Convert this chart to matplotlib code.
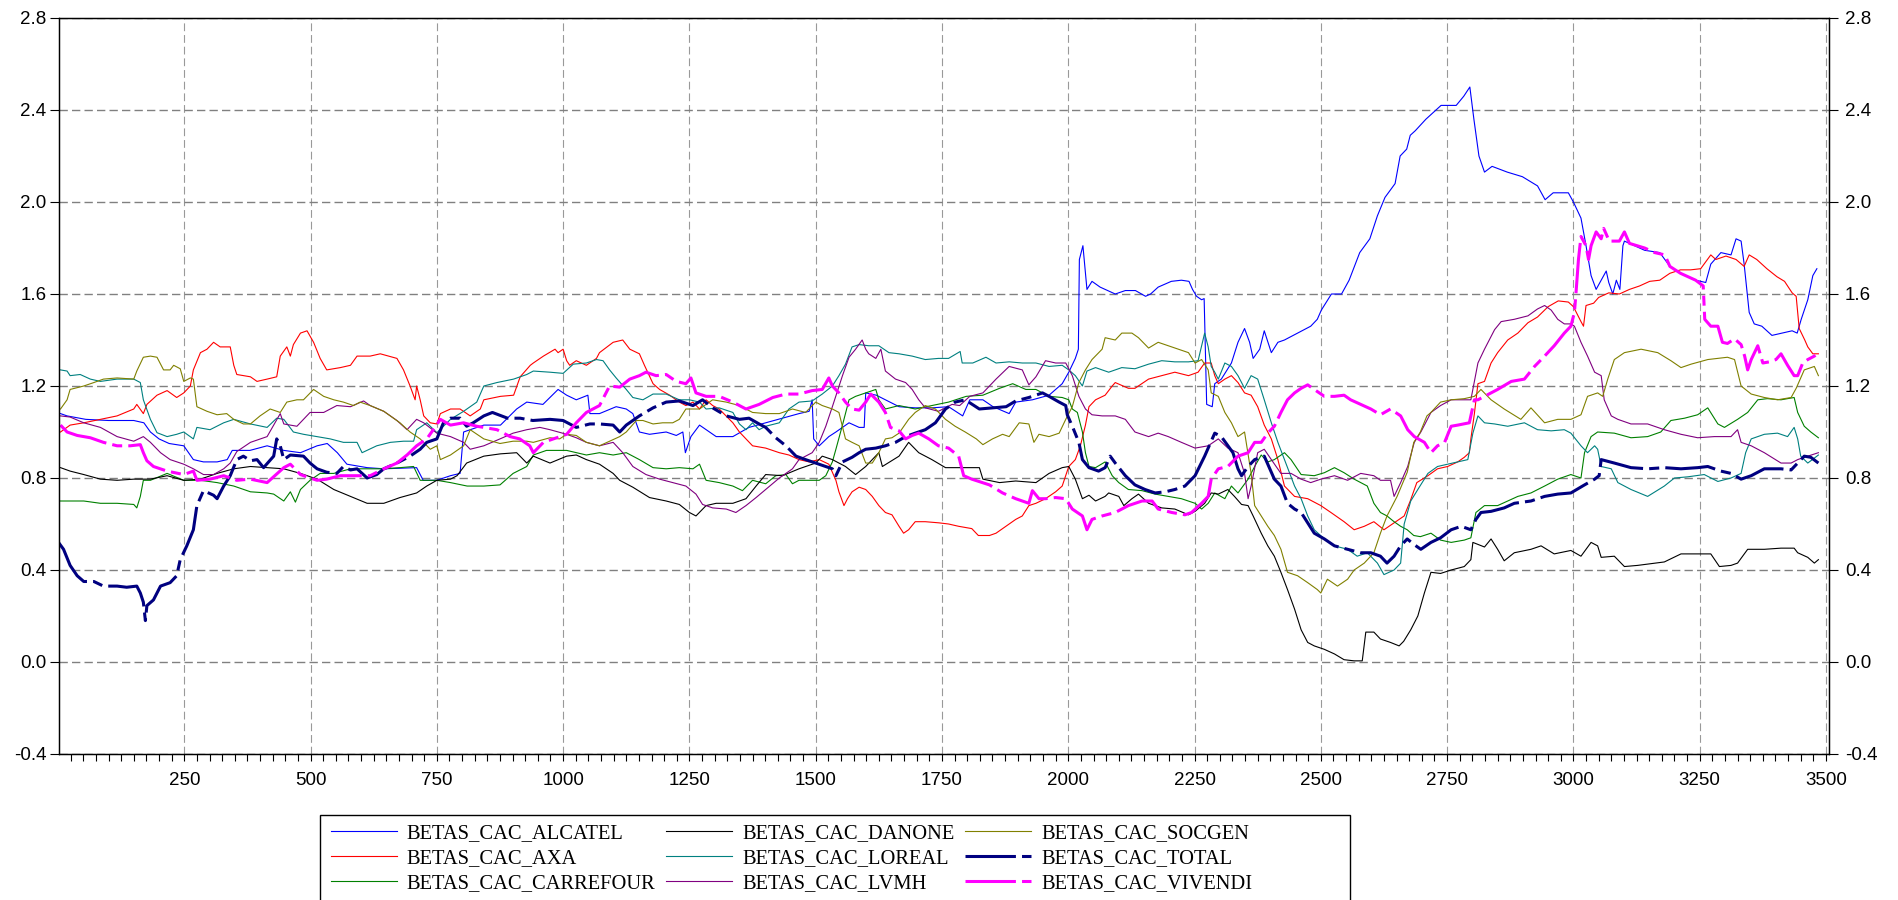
import matplotlib
matplotlib.use("Agg")
import matplotlib.pyplot as plt
from matplotlib.patches import Rectangle
from matplotlib.ticker import MultipleLocator, FormatStrFormatter

alcatel_x = [5, 18, 55, 100, 150, 170, 183, 200, 220, 249, 268, 288, 315, 335, 345, 380, 414, 447, 480, 513, 533, 553, 572, 612, 645, 710, 723, 750, 777, 796, 803, 816, 843, 876, 908, 928, 960, 990, 1007, 1026, 1049, 1053, 1072, 1105, 1125, 1138, 1151, 1171, 1204, 1224, 1237, 1242, 1253, 1270, 1290, 1303, 1336, 1368, 1401, 1434, 1467, 1487, 1493, 1496, 1507, 1526, 1540, 1566, 1586, 1596, 1599, 1620, 1638, 1665, 1697, 1730, 1763, 1791, 1805, 1831, 1851, 1883, 1896, 1929, 1962, 1988, 2001, 2014, 2020, 2022, 2029, 2037, 2047, 2063, 2093, 2113, 2133, 2153, 2163, 2178, 2204, 2224, 2239, 2246, 2254, 2264, 2269, 2274, 2285, 2290, 2303, 2323, 2336, 2349, 2359, 2366, 2379, 2388, 2402, 2415, 2428, 2454, 2480, 2493, 2501, 2521, 2541, 2556, 2577, 2597, 2612, 2627, 2647, 2657, 2670, 2677, 2687, 2708, 2738, 2768, 2783, 2795, 2803, 2813, 2824, 2839, 2869, 2899, 2929, 2944, 2960, 2990, 3000, 3015, 3025, 3035, 3045, 3055, 3065, 3070, 3078, 3085, 3092, 3098, 3101, 3121, 3141, 3171, 3191, 3212, 3242, 3262, 3272, 3292, 3312, 3322, 3332, 3338, 3348, 3358, 3373, 3393, 3413, 3433, 3443, 3451, 3464, 3474, 3482]
alcatel_y = [1.08, 1.07, 1.055, 1.05, 1.05, 1.04, 1.0, 0.97, 0.95, 0.94, 0.88, 0.87, 0.87, 0.88, 0.92, 0.92, 0.94, 0.92, 0.91, 0.94, 0.95, 0.91, 0.86, 0.845, 0.84, 0.845, 0.79, 0.79, 0.81, 0.82, 1.0, 1.01, 1.03, 1.03, 1.10, 1.13, 1.12, 1.185, 1.16, 1.14, 1.16, 1.08, 1.08, 1.11, 1.10, 1.08, 1.0, 0.99, 1.0, 0.985, 1.0, 0.91, 0.98, 1.03, 1.0, 0.98, 0.98, 1.02, 1.04, 1.06, 1.08, 1.09, 1.14, 0.97, 0.94, 0.98, 1.0, 1.04, 1.02, 1.02, 1.17, 1.16, 1.14, 1.11, 1.105, 1.105, 1.11, 1.07, 1.14, 1.14, 1.11, 1.08, 1.13, 1.14, 1.16, 1.21, 1.26, 1.32, 1.36, 1.75, 1.81, 1.62, 1.655, 1.63, 1.60, 1.615, 1.615, 1.59, 1.60, 1.63, 1.655, 1.66, 1.655, 1.62, 1.59, 1.575, 1.58, 1.12, 1.11, 1.21, 1.23, 1.30, 1.39, 1.45, 1.39, 1.32, 1.36, 1.44, 1.345, 1.39, 1.40, 1.43, 1.46, 1.49, 1.53, 1.60, 1.60, 1.66, 1.78, 1.84, 1.94, 2.02, 2.08, 2.20, 2.23, 2.29, 2.31, 2.36, 2.42, 2.42, 2.46, 2.50, 2.36, 2.20, 2.13, 2.155, 2.13, 2.11, 2.07, 2.01, 2.04, 2.04, 2.0, 1.93, 1.81, 1.68, 1.62, 1.66, 1.70, 1.65, 1.60, 1.66, 1.62, 1.81, 1.83, 1.81, 1.79, 1.78, 1.72, 1.69, 1.66, 1.65, 1.73, 1.78, 1.77, 1.84, 1.83, 1.73, 1.52, 1.47, 1.46, 1.42, 1.43, 1.44, 1.43, 1.49, 1.575, 1.68, 1.71]

axa_x = [5, 24, 51, 84, 117, 150, 156, 169, 176, 196, 216, 235, 249, 262, 268, 282, 295, 308, 321, 341, 348, 354, 381, 394, 414, 433, 440, 453, 460, 466, 480, 493, 506, 519, 532, 559, 579, 592, 618, 638, 671, 684, 697, 707, 710, 717, 724, 737, 750, 757, 777, 796, 816, 836, 843, 876, 902, 915, 935, 941, 961, 984, 990, 1000, 1007, 1013, 1026, 1046, 1066, 1072, 1099, 1118, 1132, 1151, 1161, 1178, 1191, 1211, 1230, 1243, 1257, 1270, 1283, 1296, 1309, 1336, 1349, 1362, 1375, 1401, 1428, 1447, 1467, 1487, 1507, 1526, 1540, 1546, 1556, 1563, 1572, 1586, 1599, 1612, 1625, 1638, 1651, 1665, 1674, 1684, 1697, 1717, 1744, 1763, 1783, 1809, 1822, 1844, 1857, 1870, 1896, 1909, 1922, 1936, 1955, 1975, 1988, 2001, 2014, 2024, 2034, 2041, 2054, 2073, 2087, 2093, 2119, 2132, 2159, 2185, 2211, 2238, 2257, 2270, 2283, 2290, 2297, 2310, 2323, 2336, 2349, 2362, 2375, 2388, 2402, 2415, 2428, 2448, 2474, 2500, 2520, 2546, 2566, 2586, 2605, 2625, 2645, 2665, 2677, 2690, 2712, 2731, 2751, 2771, 2784, 2794, 2797, 2804, 2811, 2824, 2837, 2850, 2870, 2890, 2910, 2929, 2950, 2970, 2990, 3000, 3015, 3020, 3025, 3040, 3050, 3070, 3091, 3111, 3131, 3151, 3171, 3191, 3212, 3232, 3252, 3272, 3282, 3302, 3322, 3338, 3348, 3363, 3383, 3403, 3418, 3433, 3441, 3447, 3458, 3464, 3474, 3485]
axa_y = [1.0, 1.03, 1.04, 1.055, 1.07, 1.10, 1.12, 1.08, 1.12, 1.16, 1.18, 1.15, 1.17, 1.2, 1.27, 1.345, 1.36, 1.39, 1.37, 1.37, 1.29, 1.25, 1.24, 1.22, 1.23, 1.24, 1.33, 1.37, 1.33, 1.38, 1.43, 1.44, 1.39, 1.32, 1.27, 1.28, 1.29, 1.33, 1.33, 1.34, 1.32, 1.27, 1.2, 1.14, 1.2, 1.14, 1.07, 1.04, 1.035, 1.08, 1.10, 1.10, 1.07, 1.10, 1.14, 1.155, 1.16, 1.24, 1.29, 1.30, 1.33, 1.36, 1.345, 1.36, 1.31, 1.29, 1.31, 1.29, 1.32, 1.345, 1.39, 1.40, 1.36, 1.34, 1.29, 1.21, 1.185, 1.16, 1.13, 1.115, 1.13, 1.10, 1.14, 1.115, 1.10, 1.04, 1.0, 0.97, 0.94, 0.93, 0.91, 0.90, 0.88, 0.87, 0.88, 0.86, 0.79, 0.74, 0.68, 0.71, 0.74, 0.76, 0.75, 0.72, 0.68, 0.65, 0.64, 0.59, 0.56, 0.575, 0.61, 0.61, 0.605, 0.60, 0.59, 0.58, 0.55, 0.55, 0.56, 0.58, 0.62, 0.635, 0.68, 0.69, 0.71, 0.74, 0.765, 0.85, 0.88, 0.94, 1.03, 1.11, 1.14, 1.16, 1.20, 1.215, 1.19, 1.19, 1.23, 1.245, 1.26, 1.245, 1.26, 1.30, 1.30, 1.245, 1.21, 1.23, 1.245, 1.215, 1.17, 1.16, 1.11, 1.03, 0.97, 0.88, 0.765, 0.72, 0.71, 0.68, 0.65, 0.61, 0.575, 0.59, 0.61, 0.575, 0.605, 0.635, 0.70, 0.78, 0.81, 0.84, 0.85, 0.87, 0.89, 0.91, 0.97, 1.08, 1.21, 1.22, 1.30, 1.345, 1.40, 1.43, 1.475, 1.50, 1.545, 1.57, 1.565, 1.545, 1.48, 1.46, 1.55, 1.56, 1.585, 1.605, 1.60, 1.62, 1.635, 1.655, 1.66, 1.69, 1.705, 1.705, 1.71, 1.77, 1.75, 1.765, 1.75, 1.72, 1.77, 1.75, 1.71, 1.675, 1.655, 1.605, 1.59, 1.45, 1.40, 1.37, 1.34, 1.34]

carrefour_x = [5, 51, 84, 117, 150, 156, 163, 169, 183, 216, 249, 282, 315, 348, 381, 414, 427, 447, 460, 470, 480, 499, 519, 546, 579, 612, 645, 677, 704, 717, 750, 777, 810, 843, 875, 901, 928, 941, 967, 1007, 1046, 1072, 1099, 1125, 1151, 1178, 1204, 1230, 1257, 1270, 1283, 1309, 1336, 1355, 1375, 1401, 1421, 1441, 1454, 1467, 1507, 1520, 1533, 1540, 1553, 1566, 1579, 1599, 1619, 1625, 1638, 1665, 1697, 1730, 1763, 1798, 1831, 1864, 1890, 1916, 1936, 1962, 1988, 2001, 2008, 2018, 2028, 2034, 2041, 2054, 2073, 2087, 2100, 2119, 2146, 2172, 2198, 2224, 2251, 2264, 2277, 2290, 2310, 2323, 2336, 2356, 2369, 2382, 2395, 2408, 2428, 2441, 2461, 2487, 2507, 2527, 2546, 2566, 2592, 2605, 2618, 2631, 2645, 2658, 2671, 2684, 2697, 2718, 2737, 2758, 2784, 2797, 2807, 2824, 2850, 2870, 2890, 2916, 2943, 2969, 2995, 3015, 3022, 3035, 3048, 3081, 3114, 3147, 3173, 3193, 3220, 3246, 3266, 3286, 3299, 3325, 3345, 3365, 3384, 3411, 3437, 3444, 3457, 3470, 3485]
carrefour_y = [0.70, 0.70, 0.69, 0.69, 0.685, 0.67, 0.72, 0.79, 0.79, 0.82, 0.79, 0.79, 0.78, 0.765, 0.74, 0.735, 0.73, 0.70, 0.74, 0.695, 0.75, 0.79, 0.82, 0.82, 0.84, 0.84, 0.84, 0.845, 0.85, 0.79, 0.79, 0.78, 0.765, 0.765, 0.77, 0.82, 0.85, 0.90, 0.92, 0.92, 0.90, 0.91, 0.90, 0.91, 0.88, 0.845, 0.84, 0.845, 0.84, 0.86, 0.79, 0.78, 0.765, 0.745, 0.79, 0.775, 0.81, 0.815, 0.775, 0.79, 0.79, 0.81, 0.87, 0.925, 1.03, 1.14, 1.155, 1.17, 1.185, 1.14, 1.10, 1.115, 1.10, 1.115, 1.13, 1.155, 1.16, 1.19, 1.21, 1.185, 1.185, 1.155, 1.15, 1.14, 1.10, 1.085, 1.0, 0.91, 0.85, 0.845, 0.87, 0.81, 0.78, 0.75, 0.745, 0.73, 0.72, 0.71, 0.69, 0.665, 0.69, 0.735, 0.71, 0.765, 0.735, 0.795, 0.85, 0.90, 0.87, 0.88, 0.91, 0.88, 0.815, 0.81, 0.823, 0.845, 0.823, 0.795, 0.765, 0.69, 0.65, 0.635, 0.61, 0.59, 0.575, 0.55, 0.545, 0.56, 0.53, 0.52, 0.53, 0.54, 0.65, 0.68, 0.68, 0.70, 0.72, 0.735, 0.765, 0.795, 0.815, 0.80, 0.91, 0.98, 1.0, 0.995, 0.975, 0.98, 1.0, 1.05, 1.06, 1.075, 1.105, 1.035, 1.02, 1.055, 1.085, 1.14, 1.145, 1.14, 1.15, 1.085, 1.025, 1.0, 0.975]

danone_x = [5, 24, 51, 84, 117, 150, 183, 216, 249, 282, 315, 348, 381, 414, 447, 480, 513, 546, 579, 612, 645, 677, 710, 730, 750, 777, 790, 809, 843, 876, 908, 928, 941, 974, 1007, 1026, 1046, 1072, 1099, 1112, 1138, 1171, 1204, 1230, 1250, 1263, 1283, 1303, 1336, 1362, 1382, 1401, 1434, 1467, 1500, 1513, 1533, 1559, 1579, 1599, 1625, 1632, 1665, 1684, 1704, 1730, 1757, 1796, 1824, 1831, 1864, 1896, 1936, 1962, 1988, 2001, 2014, 2028, 2041, 2054, 2073, 2080, 2100, 2110, 2126, 2139, 2159, 2185, 2211, 2238, 2251, 2270, 2283, 2297, 2316, 2329, 2343, 2356, 2366, 2382, 2395, 2408, 2421, 2434, 2448, 2461, 2474, 2487, 2507, 2527, 2546, 2566, 2582, 2589, 2605, 2618, 2638, 2655, 2664, 2678, 2692, 2705, 2718, 2737, 2758, 2784, 2797, 2801, 2824, 2837, 2850, 2863, 2883, 2916, 2936, 2962, 2995, 3015, 3035, 3048, 3055, 3081, 3101, 3127, 3180, 3213, 3246, 3272, 3289, 3312, 3325, 3345, 3378, 3411, 3437, 3444, 3464, 3477, 3485]
danone_y = [0.845, 0.83, 0.815, 0.795, 0.79, 0.795, 0.795, 0.81, 0.79, 0.795, 0.82, 0.84, 0.85, 0.845, 0.84, 0.82, 0.795, 0.75, 0.72, 0.69, 0.69, 0.715, 0.735, 0.765, 0.79, 0.795, 0.81, 0.865, 0.895, 0.905, 0.91, 0.865, 0.895, 0.865, 0.895, 0.90, 0.88, 0.86, 0.82, 0.79, 0.76, 0.715, 0.70, 0.685, 0.65, 0.635, 0.68, 0.69, 0.69, 0.71, 0.765, 0.815, 0.81, 0.84, 0.865, 0.895, 0.88, 0.85, 0.815, 0.85, 0.91, 0.85, 0.895, 0.955, 0.91, 0.88, 0.845, 0.845, 0.845, 0.795, 0.78, 0.787, 0.78, 0.82, 0.845, 0.85, 0.795, 0.71, 0.725, 0.70, 0.72, 0.735, 0.72, 0.68, 0.71, 0.73, 0.69, 0.67, 0.665, 0.64, 0.655, 0.69, 0.735, 0.73, 0.75, 0.72, 0.685, 0.68, 0.635, 0.56, 0.505, 0.46, 0.39, 0.315, 0.23, 0.14, 0.085, 0.07, 0.055, 0.035, 0.01, 0.005, 0.005, 0.13, 0.13, 0.10, 0.085, 0.07, 0.09, 0.14, 0.20, 0.30, 0.39, 0.385, 0.40, 0.415, 0.445, 0.52, 0.50, 0.535, 0.49, 0.44, 0.475, 0.49, 0.505, 0.47, 0.485, 0.46, 0.52, 0.505, 0.455, 0.46, 0.415, 0.42, 0.435, 0.47, 0.47, 0.47, 0.415, 0.42, 0.43, 0.49, 0.49, 0.495, 0.495, 0.475, 0.455, 0.43, 0.445]

loreal_x = [5, 18, 24, 44, 64, 84, 117, 150, 163, 169, 183, 196, 216, 235, 249, 268, 275, 301, 328, 348, 381, 414, 433, 447, 466, 486, 513, 539, 565, 592, 602, 631, 658, 684, 704, 710, 730, 750, 777, 803, 829, 843, 869, 902, 928, 941, 974, 1000, 1020, 1046, 1066, 1079, 1092, 1105, 1125, 1138, 1158, 1178, 1204, 1230, 1250, 1270, 1283, 1309, 1336, 1349, 1362, 1375, 1388, 1401, 1428, 1447, 1467, 1493, 1513, 1533, 1546, 1559, 1572, 1586, 1605, 1625, 1645, 1665, 1691, 1717, 1743, 1763, 1786, 1790, 1811, 1837, 1857, 1883, 1909, 1936, 1962, 1988, 2001, 2014, 2028, 2037, 2054, 2080, 2106, 2132, 2159, 2185, 2211, 2238, 2257, 2270, 2277, 2283, 2290, 2297, 2310, 2323, 2336, 2349, 2362, 2375, 2388, 2402, 2415, 2428, 2448, 2461, 2474, 2487, 2507, 2527, 2553, 2572, 2592, 2612, 2625, 2645, 2658, 2665, 2678, 2692, 2712, 2731, 2751, 2771, 2791, 2801, 2811, 2824, 2844, 2870, 2903, 2929, 2956, 2982, 2995, 3015, 3028, 3042, 3048, 3055, 3075, 3088, 3114, 3147, 3180, 3200, 3226, 3259, 3286, 3312, 3332, 3341, 3352, 3378, 3404, 3424, 3437, 3444, 3450, 3464, 3485]
loreal_y = [1.27, 1.265, 1.245, 1.25, 1.23, 1.22, 1.23, 1.23, 1.215, 1.14, 1.055, 0.997, 0.98, 0.99, 1.0, 0.97, 1.02, 1.01, 1.04, 1.055, 1.035, 1.02, 1.06, 1.055, 1.0, 0.99, 0.98, 0.97, 0.955, 0.955, 0.91, 0.94, 0.955, 0.96, 0.96, 1.01, 1.04, 0.997, 1.055, 1.09, 1.13, 1.2, 1.215, 1.23, 1.25, 1.265, 1.26, 1.255, 1.295, 1.30, 1.315, 1.31, 1.27, 1.235, 1.185, 1.15, 1.14, 1.165, 1.165, 1.14, 1.14, 1.13, 1.10, 1.105, 1.085, 1.035, 1.01, 1.04, 1.01, 1.025, 1.04, 1.10, 1.13, 1.135, 1.165, 1.20, 1.245, 1.295, 1.37, 1.38, 1.375, 1.375, 1.345, 1.34, 1.33, 1.315, 1.32, 1.32, 1.35, 1.30, 1.30, 1.325, 1.30, 1.305, 1.30, 1.30, 1.285, 1.29, 1.27, 1.245, 1.2, 1.265, 1.28, 1.26, 1.28, 1.275, 1.295, 1.31, 1.305, 1.305, 1.31, 1.43, 1.37, 1.285, 1.26, 1.23, 1.30, 1.285, 1.245, 1.19, 1.245, 1.23, 1.14, 1.04, 0.955, 0.88, 0.765, 0.71, 0.635, 0.575, 0.535, 0.505, 0.49, 0.46, 0.475, 0.43, 0.38, 0.40, 0.43, 0.60, 0.70, 0.75, 0.82, 0.85, 0.86, 0.87, 0.88, 0.995, 1.07, 1.04, 1.035, 1.025, 1.04, 1.01, 1.005, 1.01, 0.995, 0.94, 0.91, 0.94, 0.925, 0.85, 0.84, 0.78, 0.75, 0.72, 0.765, 0.80, 0.805, 0.815, 0.785, 0.80, 0.82, 0.91, 0.97, 0.99, 0.995, 0.98, 1.02, 0.97, 0.895, 0.865, 0.90]

lvmh_x = [5, 24, 51, 84, 117, 150, 169, 183, 203, 222, 249, 268, 288, 308, 328, 341, 354, 381, 414, 440, 447, 473, 499, 526, 552, 579, 605, 618, 645, 671, 691, 710, 724, 750, 777, 803, 816, 843, 875, 901, 928, 954, 974, 1007, 1026, 1046, 1072, 1099, 1118, 1138, 1164, 1191, 1217, 1243, 1263, 1276, 1296, 1323, 1342, 1362, 1382, 1401, 1428, 1454, 1467, 1493, 1507, 1520, 1533, 1553, 1566, 1579, 1592, 1599, 1605, 1619, 1629, 1638, 1658, 1678, 1691, 1704, 1717, 1743, 1770, 1785, 1805, 1831, 1857, 1883, 1909, 1922, 1936, 1955, 1975, 1995, 2008, 2021, 2034, 2047, 2067, 2093, 2113, 2132, 2159, 2178, 2198, 2224, 2251, 2277, 2297, 2316, 2336, 2349, 2356, 2362, 2375, 2388, 2402, 2421, 2441, 2461, 2480, 2500, 2527, 2553, 2579, 2605, 2618, 2638, 2645, 2658, 2672, 2685, 2698, 2718, 2737, 2758, 2784, 2797, 2811, 2824, 2844, 2857, 2883, 2910, 2929, 2943, 2956, 2969, 2982, 2995, 3002, 3015, 3028, 3042, 3055, 3061, 3075, 3088, 3114, 3147, 3180, 3213, 3246, 3279, 3312, 3325, 3332, 3352, 3378, 3411, 3431, 3444, 3464, 3485]
lvmh_y = [1.07, 1.065, 1.04, 1.02, 0.98, 0.96, 0.98, 0.955, 0.91, 0.88, 0.86, 0.84, 0.815, 0.815, 0.84, 0.865, 0.915, 0.955, 0.98, 1.08, 1.035, 1.025, 1.085, 1.085, 1.115, 1.11, 1.135, 1.115, 1.09, 1.05, 1.01, 1.055, 1.04, 0.995, 0.98, 0.955, 0.925, 0.94, 0.97, 0.995, 1.01, 1.02, 1.01, 0.99, 0.975, 0.955, 0.94, 0.955, 0.91, 0.85, 0.815, 0.795, 0.78, 0.765, 0.73, 0.685, 0.67, 0.665, 0.65, 0.68, 0.715, 0.75, 0.80, 0.84, 0.88, 0.91, 0.955, 1.025, 1.11, 1.245, 1.325, 1.36, 1.40, 1.36, 1.34, 1.32, 1.36, 1.265, 1.23, 1.215, 1.185, 1.14, 1.105, 1.09, 1.12, 1.115, 1.155, 1.17, 1.23, 1.285, 1.27, 1.205, 1.24, 1.31, 1.30, 1.30, 1.245, 1.155, 1.10, 1.075, 1.07, 1.07, 1.055, 1.0, 0.98, 0.995, 0.98, 0.955, 0.93, 0.94, 0.97, 0.93, 0.91, 0.82, 0.71, 0.765, 0.91, 0.925, 0.88, 0.82, 0.82, 0.795, 0.78, 0.795, 0.81, 0.79, 0.82, 0.81, 0.79, 0.79, 0.72, 0.78, 0.85, 0.955, 1.0, 1.085, 1.115, 1.14, 1.14, 1.14, 1.30, 1.36, 1.445, 1.48, 1.49, 1.505, 1.535, 1.55, 1.53, 1.49, 1.47, 1.47, 1.46, 1.39, 1.33, 1.26, 1.245, 1.14, 1.07, 1.055, 1.035, 1.035, 1.01, 0.99, 0.975, 0.98, 0.98, 1.01, 0.955, 0.94, 0.91, 0.865, 0.865, 0.88, 0.895, 0.91]

socgen_x = [5, 18, 24, 51, 71, 90, 117, 150, 156, 169, 183, 196, 209, 222, 229, 242, 249, 262, 268, 275, 295, 315, 334, 348, 367, 381, 400, 420, 440, 453, 473, 486, 506, 526, 546, 565, 585, 598, 618, 645, 677, 697, 717, 737, 750, 757, 777, 803, 816, 843, 875, 901, 928, 941, 974, 993, 1007, 1026, 1046, 1072, 1092, 1112, 1125, 1145, 1158, 1178, 1197, 1217, 1230, 1243, 1270, 1296, 1323, 1349, 1375, 1401, 1428, 1454, 1480, 1500, 1513, 1533, 1546, 1559, 1572, 1586, 1599, 1612, 1625, 1638, 1651, 1665, 1684, 1697, 1717, 1737, 1757, 1776, 1796, 1818, 1831, 1850, 1870, 1883, 1903, 1922, 1932, 1942, 1962, 1982, 1995, 2008, 2021, 2034, 2047, 2067, 2073, 2093, 2106, 2126, 2139, 2159, 2178, 2198, 2218, 2238, 2251, 2264, 2277, 2283, 2297, 2310, 2323, 2336, 2349, 2362, 2369, 2382, 2395, 2408, 2421, 2434, 2454, 2474, 2493, 2500, 2513, 2533, 2553, 2566, 2586, 2605, 2618, 2631, 2651, 2671, 2684, 2697, 2710, 2718, 2737, 2758, 2784, 2804, 2817, 2837, 2863, 2896, 2916, 2943, 2969, 2995, 3015, 3028, 3048, 3058, 3068, 3081, 3101, 3134, 3167, 3193, 3213, 3233, 3266, 3305, 3319, 3332, 3352, 3378, 3404, 3431, 3441, 3457, 3477, 3485]
socgen_y = [1.10, 1.14, 1.185, 1.2, 1.215, 1.23, 1.235, 1.23, 1.265, 1.325, 1.33, 1.325, 1.27, 1.27, 1.29, 1.275, 1.22, 1.235, 1.23, 1.11, 1.09, 1.075, 1.08, 1.055, 1.035, 1.035, 1.07, 1.10, 1.085, 1.13, 1.14, 1.14, 1.185, 1.155, 1.14, 1.13, 1.115, 1.13, 1.115, 1.09, 1.04, 1.0, 0.97, 0.925, 0.94, 0.88, 0.90, 0.94, 1.01, 0.97, 0.95, 0.96, 0.96, 0.955, 0.975, 0.97, 0.99, 0.985, 0.955, 0.94, 0.96, 0.98, 1.0, 1.05, 1.05, 1.035, 1.04, 1.04, 1.055, 1.10, 1.10, 1.14, 1.13, 1.115, 1.085, 1.08, 1.08, 1.10, 1.085, 1.13, 1.115, 1.10, 1.085, 0.97, 0.955, 0.94, 0.865, 0.865, 0.91, 0.97, 0.975, 0.995, 1.055, 1.085, 1.115, 1.10, 1.055, 1.025, 1.0, 0.97, 0.945, 0.97, 0.99, 0.98, 1.04, 1.035, 0.955, 0.99, 0.98, 0.995, 1.055, 1.11, 1.215, 1.27, 1.315, 1.36, 1.41, 1.40, 1.43, 1.43, 1.41, 1.365, 1.39, 1.375, 1.36, 1.345, 1.30, 1.315, 1.27, 1.17, 1.155, 1.085, 1.04, 0.98, 1.0, 0.82, 0.68, 0.635, 0.59, 0.55, 0.49, 0.39, 0.375, 0.345, 0.315, 0.30, 0.36, 0.33, 0.36, 0.40, 0.43, 0.475, 0.56, 0.635, 0.72, 0.825, 0.955, 1.0, 1.07, 1.085, 1.13, 1.14, 1.145, 1.155, 1.185, 1.14, 1.10, 1.055, 1.105, 1.04, 1.055, 1.055, 1.075, 1.155, 1.17, 1.155, 1.23, 1.315, 1.345, 1.36, 1.345, 1.31, 1.28, 1.295, 1.315, 1.325, 1.315, 1.2, 1.165, 1.15, 1.14, 1.15, 1.19, 1.27, 1.285, 1.245]

total_x = [1, 11, 24, 38, 51, 71, 90, 117, 136, 156, 163, 169, 173, 176, 189, 203, 222, 235, 242, 255, 268, 275, 288, 308, 315, 328, 341, 354, 367, 381, 394, 407, 427, 433, 440, 447, 460, 486, 499, 513, 532, 552, 565, 579, 592, 612, 631, 645, 671, 697, 717, 730, 750, 763, 777, 796, 809, 822, 843, 860, 890, 915, 940, 974, 1000, 1026, 1053, 1072, 1099, 1112, 1125, 1151, 1178, 1204, 1230, 1257, 1276, 1296, 1323, 1349, 1368, 1388, 1401, 1421, 1441, 1461, 1480, 1500, 1520, 1533, 1540, 1553, 1572, 1586, 1599, 1619, 1638, 1658, 1678, 1697, 1717, 1737, 1757, 1776, 1796, 1824, 1850, 1877, 1896, 1922, 1949, 1962, 1982, 1995, 1998, 2008, 2021, 2028, 2041, 2060, 2073, 2083, 2093, 2113, 2132, 2152, 2172, 2192, 2211, 2231, 2251, 2270, 2290, 2303, 2316, 2326, 2336, 2343, 2356, 2369, 2388, 2408, 2421, 2434, 2448, 2461, 2474, 2487, 2507, 2527, 2553, 2579, 2599, 2618, 2631, 2645, 2658, 2671, 2685, 2698, 2718, 2737, 2758, 2778, 2797, 2807, 2817, 2837, 2863, 2883, 2916, 2943, 2969, 2995, 3022, 3042, 3051, 3055, 3081, 3114, 3147, 3180, 3213, 3246, 3266, 3292, 3312, 3332, 3352, 3378, 3411, 3431, 3444, 3457, 3470, 3485]
total_y = [0.52, 0.49, 0.42, 0.375, 0.35, 0.35, 0.33, 0.33, 0.325, 0.33, 0.30, 0.26, 0.18, 0.245, 0.27, 0.33, 0.345, 0.375, 0.445, 0.505, 0.575, 0.68, 0.745, 0.725, 0.71, 0.765, 0.81, 0.88, 0.895, 0.875, 0.88, 0.845, 0.895, 0.97, 0.94, 0.88, 0.90, 0.895, 0.865, 0.84, 0.825, 0.82, 0.85, 0.835, 0.84, 0.80, 0.815, 0.84, 0.865, 0.895, 0.925, 0.955, 0.97, 1.04, 1.06, 1.06, 1.025, 1.04, 1.07, 1.085, 1.06, 1.06, 1.05, 1.055, 1.05, 1.02, 1.035, 1.035, 1.03, 1.0, 1.03, 1.07, 1.105, 1.13, 1.135, 1.115, 1.14, 1.105, 1.07, 1.055, 1.06, 1.035, 1.02, 0.975, 0.94, 0.895, 0.88, 0.865, 0.85, 0.84, 0.81, 0.87, 0.89, 0.91, 0.925, 0.93, 0.94, 0.955, 0.98, 0.995, 1.01, 1.04, 1.10, 1.13, 1.14, 1.10, 1.105, 1.11, 1.135, 1.15, 1.17, 1.155, 1.13, 1.115, 1.075, 1.025, 0.955, 0.88, 0.845, 0.83, 0.845, 0.895, 0.865, 0.81, 0.77, 0.75, 0.735, 0.74, 0.75, 0.765, 0.81, 0.895, 0.995, 0.98, 0.94, 0.91, 0.84, 0.81, 0.85, 0.88, 0.895, 0.795, 0.765, 0.69, 0.665, 0.65, 0.605, 0.56, 0.535, 0.505, 0.49, 0.475, 0.475, 0.46, 0.43, 0.46, 0.505, 0.535, 0.51, 0.49, 0.52, 0.54, 0.575, 0.59, 0.575, 0.62, 0.65, 0.655, 0.67, 0.69, 0.70, 0.72, 0.73, 0.735, 0.77, 0.795, 0.81, 0.88, 0.865, 0.845, 0.84, 0.845, 0.84, 0.845, 0.85, 0.83, 0.82, 0.795, 0.81, 0.84, 0.84, 0.835, 0.865, 0.895, 0.89, 0.865]

vivendi_x = [5, 18, 38, 64, 90, 117, 143, 163, 169, 176, 189, 216, 249, 268, 275, 301, 328, 354, 381, 414, 447, 460, 480, 499, 513, 532, 559, 592, 618, 645, 671, 691, 710, 730, 743, 757, 777, 803, 829, 843, 869, 895, 914, 934, 941, 961, 987, 1007, 1026, 1046, 1072, 1092, 1112, 1132, 1151, 1164, 1184, 1204, 1224, 1243, 1253, 1263, 1283, 1309, 1336, 1362, 1388, 1415, 1441, 1467, 1493, 1513, 1526, 1533, 1546, 1559, 1572, 1586, 1599, 1609, 1625, 1638, 1648, 1665, 1678, 1691, 1704, 1724, 1743, 1763, 1783, 1793, 1809, 1844, 1870, 1896, 1922, 1929, 1942, 1955, 1975, 1995, 2008, 2028, 2037, 2047, 2067, 2093, 2119, 2146, 2166, 2178, 2205, 2231, 2244, 2264, 2277, 2283, 2297, 2316, 2336, 2356, 2369, 2382, 2395, 2408, 2421, 2434, 2448, 2461, 2474, 2487, 2507, 2527, 2546, 2559, 2579, 2599, 2618, 2638, 2658, 2672, 2685, 2705, 2718, 2731, 2745, 2758, 2771, 2794, 2804, 2811, 2824, 2850, 2877, 2903, 2923, 2943, 2962, 2982, 2995, 3002, 3005, 3010, 3015, 3025, 3030, 3035, 3045, 3055, 3060, 3071, 3091, 3101, 3111, 3141, 3161, 3181, 3191, 3212, 3242, 3257, 3260, 3272, 3286, 3295, 3305, 3319, 3332, 3339, 3345, 3352, 3365, 3375, 3388, 3401, 3411, 3424, 3437, 3444, 3454, 3464, 3477, 3485]
vivendi_y = [1.03, 1.0, 0.985, 0.975, 0.955, 0.94, 0.94, 0.945, 0.91, 0.875, 0.85, 0.83, 0.815, 0.83, 0.79, 0.795, 0.81, 0.79, 0.795, 0.78, 0.845, 0.86, 0.815, 0.80, 0.79, 0.795, 0.81, 0.81, 0.81, 0.84, 0.865, 0.90, 0.94, 0.97, 1.01, 1.055, 1.03, 1.04, 1.025, 1.02, 1.01, 0.98, 0.97, 0.94, 0.91, 0.955, 0.975, 0.99, 1.04, 1.085, 1.115, 1.2, 1.195, 1.23, 1.245, 1.26, 1.245, 1.25, 1.22, 1.21, 1.235, 1.17, 1.155, 1.155, 1.13, 1.10, 1.12, 1.15, 1.165, 1.165, 1.18, 1.185, 1.235, 1.20, 1.17, 1.13, 1.10, 1.095, 1.13, 1.165, 1.13, 1.085, 1.02, 1.005, 0.97, 0.985, 0.995, 0.97, 0.94, 0.93, 0.895, 0.81, 0.795, 0.77, 0.735, 0.71, 0.69, 0.745, 0.71, 0.71, 0.715, 0.71, 0.665, 0.635, 0.575, 0.62, 0.635, 0.65, 0.68, 0.70, 0.70, 0.665, 0.65, 0.64, 0.65, 0.69, 0.72, 0.795, 0.84, 0.85, 0.895, 0.91, 0.955, 0.955, 0.995, 1.025, 1.085, 1.14, 1.17, 1.19, 1.205, 1.185, 1.155, 1.155, 1.16, 1.14, 1.12, 1.10, 1.075, 1.10, 1.07, 1.01, 0.98, 0.955, 0.91, 0.94, 0.955, 1.025, 1.03, 1.04, 1.14, 1.14, 1.155, 1.185, 1.22, 1.23, 1.285, 1.33, 1.375, 1.43, 1.46, 1.52, 1.60, 1.75, 1.85, 1.81, 1.75, 1.81, 1.87, 1.84, 1.885, 1.83, 1.83, 1.87, 1.82, 1.80, 1.78, 1.77, 1.72, 1.69, 1.66, 1.635, 1.49, 1.46, 1.46, 1.39, 1.385, 1.405, 1.38, 1.33, 1.27, 1.315, 1.375, 1.30, 1.305, 1.315, 1.34, 1.29, 1.245, 1.245, 1.30, 1.315, 1.33, 1.345]

labels = ["BETAS_CAC_ALCATEL", "BETAS_CAC_AXA", "BETAS_CAC_CARREFOUR",
          "BETAS_CAC_DANONE", "BETAS_CAC_LOREAL", "BETAS_CAC_LVMH",
          "BETAS_CAC_SOCGEN", "BETAS_CAC_TOTAL", "BETAS_CAC_VIVENDI"]
series = [(alcatel_x, alcatel_y), (axa_x, axa_y), (carrefour_x, carrefour_y),
          (danone_x, danone_y), (loreal_x, loreal_y), (lvmh_x, lvmh_y),
          (socgen_x, socgen_y), (total_x, total_y), (vivendi_x, vivendi_y)]
colors = ["#0000ff", "#ff0000", "#008000", "#000000", "#008080", "#800080",
          "#808000", "#000080", "#ff00ff"]


def main():
    fig = plt.figure(figsize=(18.99, 9.0), dpi=100)
    ax = fig.add_axes([59 / 1899, 146 / 900, 1770 / 1899, 736 / 900])

    handles = []
    for (xs, ys), lab, col in zip(series, labels, colors):
        if lab.endswith("TOTAL") or lab.endswith("VIVENDI"):
            ln, = ax.plot(xs, ys, color=col, lw=2.2, label=lab,
                          linestyle=(0, (16.5, 2.0, 3.3, 2.0)))
        else:
            ln, = ax.plot(xs, ys, color=col, lw=0.8, label=lab)
        handles.append(ln)

    ax.set_xlim(2, 3506)
    ax.set_ylim(-0.4, 2.8)
    ax.xaxis.set_major_locator(MultipleLocator(250))
    ax.xaxis.set_minor_locator(MultipleLocator(25))
    ax.yaxis.set_major_locator(MultipleLocator(0.4))
    ax.yaxis.set_major_formatter(FormatStrFormatter("%.1f"))

    ax.set_axisbelow(True)
    ax.yaxis.grid(True, color="#808080", lw=1.0, linestyle=(0, (6, 3)))
    ax.xaxis.grid(True, color="#999999", lw=0.8, linestyle=(0, (7, 3.5)))

    ax.tick_params(axis="x", which="both", direction="out", length=5,
                   width=0.8, pad=8)
    ax.tick_params(axis="y", direction="out", length=6.5, width=0.8, pad=2.5)

    # the same scale repeated on the right
    ax2 = ax.twinx()
    ax2.set_ylim(ax.get_ylim())
    ax2.yaxis.set_major_locator(MultipleLocator(0.4))
    ax2.yaxis.set_major_formatter(FormatStrFormatter("%.1f"))
    ax2.tick_params(axis="y", direction="out", length=6.5, width=0.8, pad=5)

    for lbl in (ax.get_xticklabels() + ax.get_yticklabels()
                + ax2.get_yticklabels()):
        lbl.set_fontfamily(["Liberation Sans", "DejaVu Sans"])
        lbl.set_fontsize(13.5)
    for a in (ax, ax2):
        for sp in a.spines.values():
            sp.set_linewidth(0.9)
            sp.set_color("black")

    # legend box (runs off the bottom of the image)
    box = Rectangle((320 / 1899, -0.05), 1030 / 1899, 0.05 + 85 / 900,
                    transform=fig.transFigure, fill=False, edgecolor="black",
                    lw=1.0, clip_on=False)
    fig.patches.append(box)
    fig.legend(handles, labels, ncol=3, loc="upper left",
               bbox_to_anchor=(331 / 1899, 1 - 824 / 900),
               bbox_transform=fig.transFigure, frameon=False,
               prop={"family": ["Liberation Serif", "DejaVu Serif"], "size": 14.8},
               handlelength=3.2, handletextpad=0.49, columnspacing=0.53,
               labelspacing=0.27, borderpad=0, borderaxespad=0)

    fig.savefig("out.png", dpi=100)


if __name__ == "__main__":
    main()
